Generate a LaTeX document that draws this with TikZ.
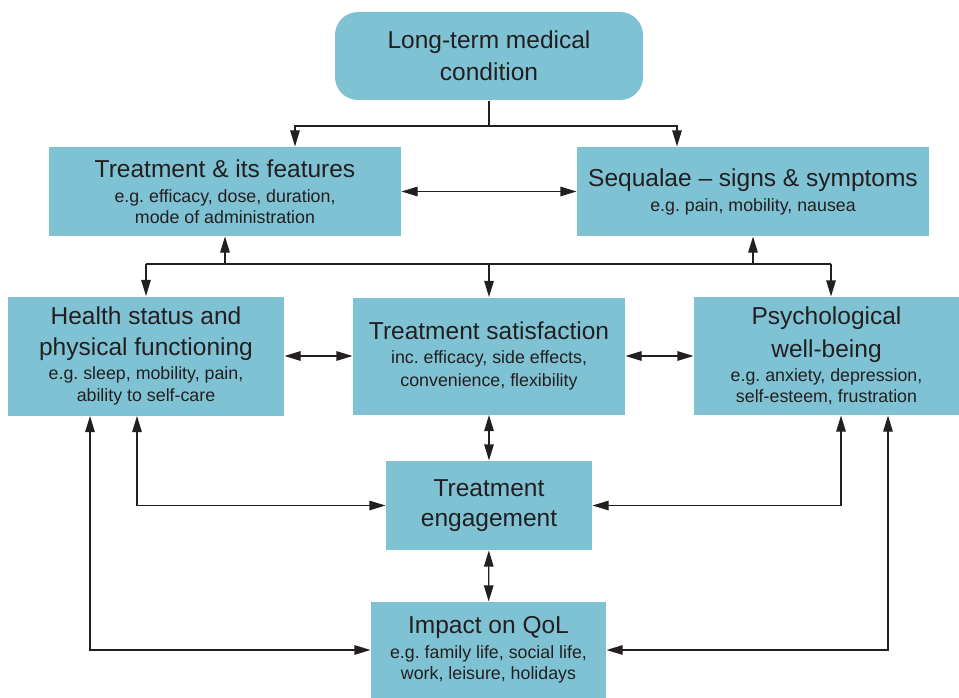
\documentclass[tikz,border=0pt]{standalone}
\usepackage{fontspec}
\setmainfont{Liberation Sans}
\usetikzlibrary{arrows.meta}

\definecolor{boxfill}{RGB}{126,194,211}
\definecolor{ink}{RGB}{35,31,32}
\newcommand{\hd}{\fontsize{24.5}{29}\selectfont}
\frenchspacing

\begin{document}
\begin{tikzpicture}[x=1pt, y=-1pt, color=ink, line width=1.1pt,
		>={Triangle[length=16pt,width=9.5pt]},
		font=\fontsize{17.8}{21.5}\selectfont,
		box/.style={fill=boxfill, align=center, inner sep=0pt}]
		\useasboundingbox (0,0) rectangle (959,698);
		% boxes
		\node[box, rounded corners=23pt, minimum width=308pt, minimum height=88pt] (cond) at (489,56)
			{{\hd Long-term medical}\\[8.5pt]{\hd condition}};
		\node[box, minimum width=352pt, minimum height=89pt] (treat) at (225,191.5)
			{{\hd Treatment \& its features}\\[3.5pt] e.g. efficacy, dose, duration,\\ mode of administration};
		\node[box, minimum width=352pt, minimum height=89pt] (seq) at (753,191.5)
			{{\hd Sequalae -- signs \& symptoms}\\[3.5pt] e.g. pain, mobility, nausea};
		\node[box, minimum width=276pt, minimum height=119pt] (health) at (146,356)
			{{\hd Health status and}\\[9.5pt]{\hd physical functioning}\\[2.5pt] e.g. sleep, mobility, pain,\\ ability to self-care};
		\node[box, minimum width=272pt, minimum height=117pt] (satis) at (489,356)
			{{\hd Treatment satisfaction}\\[2pt] inc. efficacy, side effects,\\[1.5pt] convenience, flexibility};
		\node[box, minimum width=265pt, minimum height=118pt] (psych) at (826.5,356)
			{{\hd Psychological}\\[9.5pt]{\hd well-being}\\[2pt] e.g. anxiety, depression,\\ self-esteem, frustration};
		\node[box, minimum width=206pt, minimum height=89pt] (engage) at (489,505.5)
			{{\hd Treatment}\\[8.5pt]{\hd engagement}};
		\node[box, minimum width=235pt, minimum height=96pt] (qol) at (488.5,650)
			{{\hd Impact on QoL}\\[3.5pt] e.g. family life, social life,\\ work, leisure, holidays};
		% condition -> treatment and sequalae
		\coordinate (topfork) at (489,126);
		\draw (cond) -- (topfork);
		\draw[->] (topfork) -| ([xshift=70pt]treat.north);
		\draw[->] (topfork) -| ([xshift=-76pt]seq.north);
		\draw[<->] (treat) -- (seq);
		% middle fork
		\coordinate (midfork) at (489,264);
		\coordinate (psychin) at ([xshift=4.5pt]psych.north);
		\draw (health.north |- midfork) -- (psychin |- midfork);
		\draw[->] (treat.south |- midfork) -- (treat.south);
		\draw[->] (seq.south |- midfork) -- (seq.south);
		\draw[->] (health.north |- midfork) -- (health.north);
		\draw[->] (midfork) -- (satis.north);
		\draw[->] (psychin |- midfork) -- (psychin);
		% links between the lower boxes
		\draw[<->] (health) -- (satis);
		\draw[<->] (satis) -- (psych);
		\draw[<->] (satis) -- (engage);
		\draw[<->] (engage) -- (qol);
		\draw[<->] ([xshift=-9pt]health.south) |- (engage);
		\draw[<->] ([xshift=-56pt]health.south) |- (qol);
		\draw[<->] ([xshift=14.5pt]psych.south) |- (engage);
		\draw[<->] ([xshift=61.5pt]psych.south) |- (qol);
	\end{tikzpicture}
\end{document}
